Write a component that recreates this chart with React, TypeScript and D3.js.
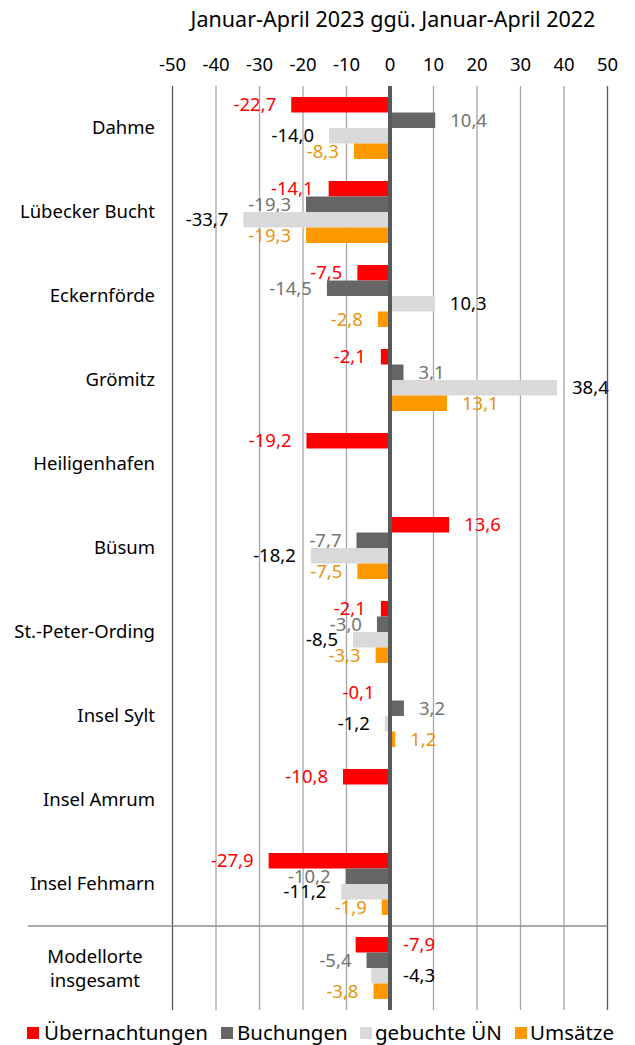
import React from "react";
import * as d3 from "d3";

const categories = [
  "Dahme",
  "Lübecker Bucht",
  "Eckernförde",
  "Grömitz",
  "Heiligenhafen",
  "Büsum",
  "St.-Peter-Ording",
  "Insel Sylt",
  "Insel Amrum",
  "Insel Fehmarn",
  "Modellorte insgesamt",
];
const seriesNames = ["Übernachtungen", "Buchungen", "gebuchte ÜN", "Umsätze"];
const uebernachtungen = [-22.7, -14.1, -7.5, -2.1, -19.2, 13.6, -2.1, -0.1, -10.8, -27.9, -7.9];
const buchungen = [10.4, -19.3, -14.5, 3.1, null, -7.7, -3.0, 3.2, null, -10.2, -5.4];
const gebuchteUN = [-14.0, -33.7, 10.3, 38.4, null, -18.2, -8.5, -1.2, null, -11.2, -4.3];
const umsaetze = [-8.3, -19.3, -2.8, 13.1, null, -7.5, -3.3, 1.2, null, -1.9, -3.8];
const tickValues = [-50, -40, -30, -20, -10, 0, 10, 20, 30, 40, 50];
const title = "Januar-April 2023 ggü. Januar-April 2022";
// labels drawn on the opposite side of the zero line (category, series index)
const flippedLabels: [string, number][] = [
  ["Modellorte insgesamt", 0],
  ["Modellorte insgesamt", 2],
];

const barColors = ["#FF0000", "#666666", "#D9D9D9", "#FF9900"];
const labelColors = ["#FF0000", "#737373", "#000000", "#E8950C"];
const FONT = "'Noto Sans', sans-serif";

export default function App() {
  const W = 635;
  const H = 1045;
  const x = d3.scaleLinear().domain([-50, 50]).range([172.5, 607.5]);
  const y = d3.scaleBand<string>().domain(categories).range([86, 1010]).paddingInner(0.262).paddingOuter(0.131);
  const ySub = d3.scaleBand<number>().domain([0, 1, 2, 3]).range([0, y.bandwidth()]);
  const all = [uebernachtungen, buchungen, gebuchteUN, umsaetze];
  const fmt = (v: number) => d3.format(".1f")(v).replace(".", ",").replace("\u2212", "-");
  const x0 = x(0);
  const sepY = (y(categories[9])! + y.bandwidth() + y(categories[10])!) / 2;

  const legendItems = [
    { sq: 27, tx: 44 },
    { sq: 221, tx: 237 },
    { sq: 360, tx: 375 },
    { sq: 515, tx: 530 },
  ];

  return (
    <svg width={W} height={H} style={{ position: "absolute", left: 0, top: 0, background: "#fff" }} fontFamily={FONT}>
      <text x={(x(-50) + x(50)) / 2 + 3} y={27} textAnchor="middle" fontSize={21.5} fill="#000">
        {title}
      </text>
      {tickValues.map((t) => (
        <g key={t}>
          <text x={x(t)} y={71} textAnchor="middle" fontSize={18.5} fill="#000">
            {t}
          </text>
          {t !== 0 && (
            <line
              x1={x(t)}
              x2={x(t)}
              y1={86}
              y2={1010}
              stroke={Math.abs(t) === 50 ? "#595959" : "#A6A6A6"}
              strokeWidth={1.3}
            />
          )}
        </g>
      ))}
      <line x1={28} x2={x(50)} y1={sepY} y2={sepY} stroke="#8C8C8C" strokeWidth={1.5} />
      {categories.map((c) => {
        const yc = y(c)! + y.bandwidth() / 2;
        if (c === "Modellorte insgesamt") {
          return (
            <text key={c} x={95} y={yc} textAnchor="middle" fontSize={18.5} fill="#000">
              <tspan x={95} dy={-5}>Modellorte</tspan>
              <tspan x={95} dy={24}>insgesamt</tspan>
            </text>
          );
        }
        return (
          <text key={c} x={155} y={yc} dy="0.35em" textAnchor="end" fontSize={18.5} fill="#000">
            {c}
          </text>
        );
      })}
      {categories.map((c, ci) =>
        all.map((s, si) => {
          const v = s[ci];
          if (v === null || v === undefined) return null;
          const by = y(c)! + ySub(si)!;
          const bh = ySub.bandwidth();
          const xa = Math.min(x(v), x0);
          const w = Math.abs(x(v) - x0);
          const flipped = flippedLabels.some(([fc, fs]) => fc === c && fs === si);
          const neg = v < 0;
          const onLeft = flipped ? !neg : neg;
          const lx = flipped ? (onLeft ? x0 - 13 : x0 + 13) : onLeft ? x(v) - 15 : x(v) + 15;
          return (
            <g key={c + si}>
              <rect x={xa} y={by} width={w} height={bh} fill={barColors[si]} />
              <text
                x={lx}
                y={by + bh / 2}
                dy="0.36em"
                textAnchor={onLeft ? "end" : "start"}
                fontSize={18.5}
                fill={labelColors[si]}
              >
                {fmt(v)}
              </text>
            </g>
          );
        })
      )}
      <line x1={x0} x2={x0} y1={86} y2={1010} stroke="#595959" strokeWidth={4} />
      {seriesNames.map((n, i) => (
        <g key={n}>
          <rect x={legendItems[i].sq} y={1027} width={12} height={12} fill={barColors[i]} />
          <text x={legendItems[i].tx} y={1040} fontSize={20.5} fill="#000">
            {n}
          </text>
        </g>
      ))}
    </svg>
  );
}
